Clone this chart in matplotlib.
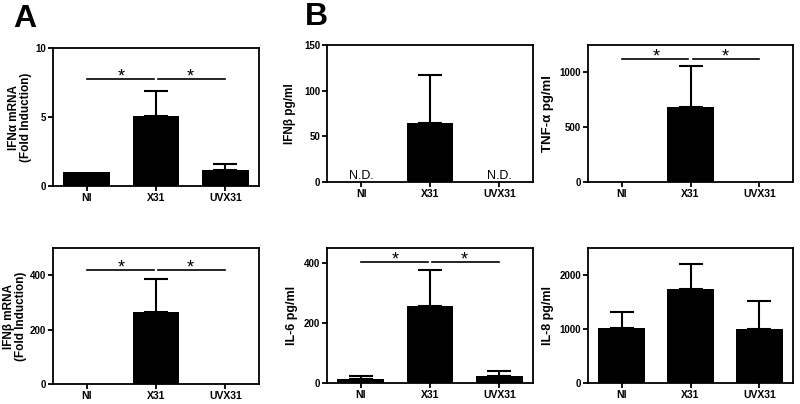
import numpy as np
import matplotlib.pyplot as plt

plt.rcParams['font.family'] = ['Liberation Sans', 'DejaVu Sans']

groups = ["NI", "X31", "UVX31"]

# panel A
ifna_mrna = [1.0, 5.1, 1.15]
ifna_mrna_err = [0, 1.8, 0.42]
ifnb_mrna = [0, 265, 0]
ifnb_mrna_err = [0, 121, 0]

# panel B
ifnb_pg = [0, 65, 0]
ifnb_pg_err = [0, 52, 0]
tnfa_pg = [0, 690, 0]
tnfa_pg_err = [0, 365, 0]
il6_pg = [14, 255, 25]
il6_pg_err = [11, 122, 17]
il8_pg = [1027, 1736, 996]
il8_pg_err = [287, 471, 514]

W, H = 800, 404
fig = plt.figure(figsize=(W / 100, H / 100), dpi=100)


def make_ax(x0, y0, x1, y1):
    # pixel box -> figure fraction
    return fig.add_axes([x0 / W, 1 - y1 / H, (x1 - x0) / W, (y1 - y0) / H])


def bar_panel(ax, vals, errs, ylim, yticks, ylabel, lab_size=8.5, pad=4,
              sig=None, nd=False):
    x = np.arange(len(groups))
    vals = np.array(vals, dtype=float)
    errs = np.array(errs, dtype=float)
    ax.bar(x, vals, width=0.67, color="black", zorder=2)
    m = errs > 0
    ax.errorbar(x[m], vals[m], yerr=[np.zeros(m.sum()), errs[m]], fmt="none",
                ecolor="black", elinewidth=1.5, capsize=8.5, capthick=1.5, zorder=1)
    ax.set_xlim(-0.49, 2.49)
    ax.set_ylim(*ylim)
    ax.set_yticks(yticks)
    ax.set_xticks(x)
    ax.set_xticklabels(groups, fontsize=7.5, fontweight="bold")
    for lab in ax.get_yticklabels():
        lab.set_fontsize(7)
        lab.set_fontweight("bold")
    ax.tick_params(direction="out", length=3.5, width=1.3, pad=1.5)
    for s in ax.spines.values():
        s.set_linewidth(1.3)
    ax.set_ylabel(ylabel, fontsize=lab_size, fontweight="bold", labelpad=pad,
                  linespacing=1.0)
    if sig is not None:
        ax.plot([0, 0.97], [sig, sig], color="black", lw=1.2)
        ax.plot([1.03, 2], [sig, sig], color="black", lw=1.2)
        for xm in (0.5, 1.5):
            ax.annotate("*", (xm, sig), xytext=(0, -2), textcoords="offset points",
                        ha="center", va="baseline", fontsize=13)
    if nd:
        for xi in (0, 2):
            ax.text(xi, 0, "N.D.", ha="center", va="bottom", fontsize=9)


ax = make_ax(52.7, 48, 259.3, 186)
bar_panel(ax, ifna_mrna, ifna_mrna_err, (0, 10), [0, 5, 10],
          "IFN\u03b1 mRNA\n(Fold Induction)", pad=2, sig=7.75)

ax = make_ax(52.7, 248, 259.3, 384.3)
bar_panel(ax, ifnb_mrna, ifnb_mrna_err, (0, 500), [0, 200, 400],
          "IFN\u03b2 mRNA\n(Fold Induction)", pad=2, sig=420)

ax = make_ax(327.3, 45, 533.3, 182)
bar_panel(ax, ifnb_pg, ifnb_pg_err, (0, 150), [0, 50, 100, 150],
          "IFN\u03b2 pg/ml", pad=6, nd=True)

ax = make_ax(587.7, 45, 793.3, 182.3)
bar_panel(ax, tnfa_pg, tnfa_pg_err, (0, 1250), [0, 500, 1000],
          "TNF-\u03b1 pg/ml", lab_size=9.5, sig=1125)

ax = make_ax(326.7, 247.7, 533.3, 383.3)
bar_panel(ax, il6_pg, il6_pg_err, (0, 450), [0, 200, 400],
          "IL-6 pg/ml", lab_size=9, sig=402)

ax = make_ax(587.7, 247.7, 793.3, 383.3)
bar_panel(ax, il8_pg, il8_pg_err, (0, 2500), [0, 1000, 2000],
          "IL-8 pg/ml", lab_size=9)

fig.text(13 / W, 1 - 4 / H, "A", fontsize=23, fontweight="bold", ha="left", va="top")
fig.text(305 / W, 1 - 2 / H, "B", fontsize=23, fontweight="bold", ha="left", va="top")

fig.savefig("out.png", dpi=100)
